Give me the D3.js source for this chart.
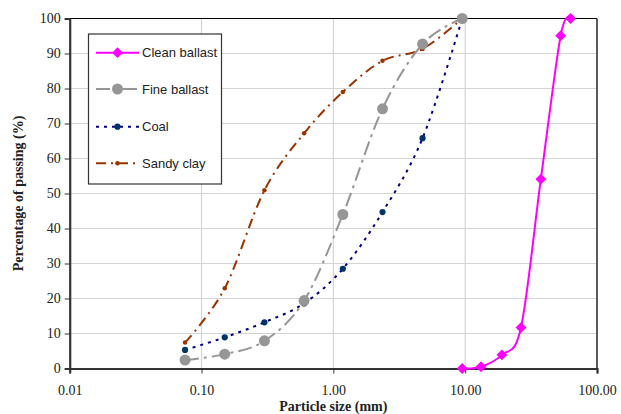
<!DOCTYPE html>
<html>
<head>
<meta charset="utf-8">
<script src="https://cdn.jsdelivr.net/npm/d3@7"></script>
<style>
  html, body { margin: 0; padding: 0; background: #ffffff; }
  svg { display: block; }
</style>
</head>
<body>
<svg id="chart" width="621" height="414"></svg>
<script>
// Particle size distribution curves (sieve size in mm vs % passing)
const seriesNames = ["Clean ballast", "Fine ballast", "Coal", "Sandy clay"];

const cleanBallastSize = [9.5, 13.2, 19, 26.5, 37.5, 53, 63];
const cleanBallastPass = [0, 0.5, 3.9, 11.7, 54.1, 95.1, 100];

const sieveSize = [0.075, 0.15, 0.3, 0.6, 1.18, 2.36, 4.75, 9.5];
const fineBallastPass = [2.4, 4.1, 7.9, 19.4, 44.0, 74.2, 92.7, 100];
const coalPass = [5.3, 8.9, 13.2, 18.6, 28.5, 44.7, 65.8, 100];
const sandyClayPass = [7.4, 22.9, 50.9, 67.2, 79.0, 87.9, 91.3, 100];

const xTickValues = [0.01, 0.1, 1, 10, 100];
const xTickLabels = ["0.01", "0.10", "1.00", "10.00", "100.00"];
const yTickValues = [0, 10, 20, 30, 40, 50, 60, 70, 80, 90, 100];

const svg = d3.select("#chart");
const plotL = 69.7, plotR = 597, plotT = 18.5, plotB = 368.5;

const x = d3.scaleLog().domain([0.01, 100]).range([plotL, plotR]);
const y = d3.scaleLinear().domain([0, 100]).range([plotB, plotT]);

// gridlines
const grid = svg.append("g");
grid.selectAll("line.h").data(yTickValues.slice(1, -1)).join("line")
  .attr("x1", plotL).attr("x2", plotR)
  .attr("y1", d => y(d)).attr("y2", d => y(d))
  .attr("stroke", "#d4d4d4").attr("stroke-width", 1.2);
grid.selectAll("line.v").data(xTickValues.slice(1, -1)).join("line")
  .attr("y1", plotT).attr("y2", plotB)
  .attr("x1", d => x(d)).attr("x2", d => x(d))
  .attr("stroke", "#d4d4d4").attr("stroke-width", 1.2);

// plot border (top and right)
svg.append("line").attr("x1", plotL).attr("x2", plotR).attr("y1", plotT).attr("y2", plotT)
  .attr("stroke", "#000").attr("stroke-width", 1.2);
svg.append("line").attr("x1", plotR).attr("x2", plotR).attr("y1", plotT).attr("y2", plotB)
  .attr("stroke", "#333").attr("stroke-width", 1.6);

// axes
const xAxis = d3.axisBottom(x).tickValues(xTickValues)
  .tickFormat((d, i) => xTickLabels[i]).tickSize(5).tickPadding(12);
const gx = svg.append("g").attr("transform", `translate(0,${plotB})`).call(xAxis);
gx.select(".domain").attr("stroke", "#333").attr("stroke-width", 2.2);
gx.selectAll(".tick line").attr("stroke", "#333").attr("stroke-width", 1);
gx.selectAll(".tick text").attr("font-family", "'Liberation Serif', 'Times New Roman', serif")
  .attr("font-size", 14).attr("fill", "#222");

const yAxis = d3.axisLeft(y).tickValues(yTickValues).tickSize(5).tickPadding(4);
const gy = svg.append("g").attr("transform", `translate(${plotL},0)`).call(yAxis);
gy.select(".domain").attr("stroke", "#333").attr("stroke-width", 2.2);
gy.selectAll(".tick line").attr("stroke", "#333").attr("stroke-width", 1);
gy.selectAll(".tick text").attr("font-family", "'Liberation Serif', 'Times New Roman', serif")
  .attr("font-size", 14).attr("fill", "#222");

// axis titles
svg.append("text").attr("x", (plotL + plotR) / 2).attr("y", 411)
  .attr("text-anchor", "middle")
  .attr("font-family", "'Liberation Serif', 'Times New Roman', serif")
  .attr("font-weight", "bold").attr("font-size", 14).attr("fill", "#222")
  .text("Particle size (mm)");
svg.append("text")
  .attr("transform", `translate(23,${(plotT + plotB) / 2}) rotate(-90)`)
  .attr("text-anchor", "middle")
  .attr("font-family", "'Liberation Serif', 'Times New Roman', serif")
  .attr("font-weight", "bold").attr("font-size", 14).attr("fill", "#222")
  .text("Percentage of passing (%)");

// series definitions
const series = [
  { name: seriesNames[0], sizes: cleanBallastSize, pass: cleanBallastPass,
    color: "#ff00ff", width: 2, dash: null, marker: "diamond", mSize: 75, mColor: "#ff00ff" },
  { name: seriesNames[1], sizes: sieveSize, pass: fineBallastPass,
    color: "#969696", width: 2, dash: "14,5,3,5", marker: "circle", mSize: 95, mColor: "#969696" },
  { name: seriesNames[2], sizes: sieveSize, pass: coalPass,
    color: "#000080", width: 2, dash: "3,5", marker: "circle", mSize: 30, mColor: "#003366" },
  { name: seriesNames[3], sizes: sieveSize, pass: sandyClayPass,
    color: "#993300", width: 2, dash: "10,5,2,5", marker: "circle", mSize: 16, mColor: "#993300" }
];

const line = d3.line().x(d => x(d[0])).y(d => y(d[1])).curve(d3.curveCatmullRom.alpha(0));

const plot = svg.append("g");
// draw in reverse so clean ballast sits on top in the shared corner
series.slice().reverse().forEach(s => {
  const pts = s.sizes.map((v, i) => [v, s.pass[i]]);
  plot.append("path").datum(pts)
    .attr("d", line).attr("fill", "none")
    .attr("stroke", s.color).attr("stroke-width", s.width)
    .attr("stroke-dasharray", s.dash);
  const sym = d3.symbol().type(s.marker === "diamond" ? d3.symbolDiamond2 : d3.symbolCircle).size(s.mSize);
  plot.selectAll(null).data(pts).join("path")
    .attr("transform", d => `translate(${x(d[0])},${y(d[1])})`)
    .attr("d", sym).attr("fill", s.mColor);
});

// legend
const lg = svg.append("g");
lg.append("rect").attr("x", 88.5).attr("y", 34).attr("width", 133).attr("height", 150)
  .attr("fill", "#fff").attr("stroke", "#333").attr("stroke-width", 1.2);
const legendY = [52.7, 89, 126.7, 163.3];
series.forEach((s, i) => {
  const ly = legendY[i];
  lg.append("line").attr("x1", 96).attr("x2", 139).attr("y1", ly).attr("y2", ly)
    .attr("stroke", s.color).attr("stroke-width", s.width)
    .attr("stroke-dasharray", s.dash);
  const sym = d3.symbol().type(s.marker === "diamond" ? d3.symbolDiamond2 : d3.symbolCircle).size(s.mSize);
  lg.append("path").attr("transform", `translate(117.5,${ly})`).attr("d", sym).attr("fill", s.mColor);
  lg.append("text").attr("x", 142).attr("y", ly + 4.5)
    .attr("font-family", "'Liberation Sans', Arial, sans-serif")
    .attr("font-size", 13).attr("fill", "#222").text(s.name);
});
</script>
</body>
</html>
